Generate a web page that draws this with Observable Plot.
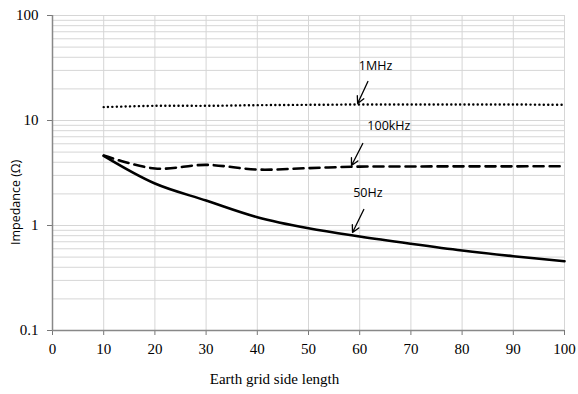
<!DOCTYPE html>
<html>
<head>
<meta charset="utf-8">
<script src="https://cdn.jsdelivr.net/npm/d3@7"></script>
<script src="https://cdn.jsdelivr.net/npm/@observablehq/plot@0.6"></script>
<style>
  body { margin: 0; background: #fff; }
</style>
</head>
<body>
<div id="chart"></div>
<script>
const sideLength = [10, 20, 30, 40, 50, 60, 70, 80, 90, 100];
const z1MHz   = [13.4, 13.8, 13.8, 14.0, 14.1, 14.2, 14.2, 14.2, 14.2, 14.1];
const z100kHz = [4.64, 3.49, 3.78, 3.41, 3.52, 3.64, 3.65, 3.66, 3.66, 3.67];
const z50Hz   = [4.6, 2.51, 1.73, 1.2, 0.94, 0.785, 0.67, 0.578, 0.51, 0.457];

const xTicks = [0, 10, 20, 30, 40, 50, 60, 70, 80, 90, 100];
const yTicks = [0.1, 1, 10, 100];
const yMinor = [];
for (const d of [0.1, 1, 10]) for (let k = 2; k <= 9; k++) yMinor.push(+(d * k).toFixed(3));

const labels = [
  {text: "1MHz",   x: 63.1, y: 33.4},
  {text: "100kHz", x: 65.7, y: 8.77},
  {text: "50Hz",   x: 61.6, y: 2.06}
];
const arrows = [
  {x1: 61.6, y1: 23.5, x2: 59.6, y2: 14.5},
  {x1: 60.6, y1: 6.04, x2: 58.4, y2: 3.73},
  {x1: 60.8, y1: 1.42, x2: 58.6, y2: 0.857}
];
const yTitle = [{x: 0, y: 1.66, text: "Impedance (Ω)"}];

const mk = (vals) => sideLength.map((x, i) => ({x, y: vals[i]}));

const chart = Plot.plot({
  width: 578,
  height: 394,
  marginTop: 15,
  marginBottom: 64,
  marginLeft: 52,
  marginRight: 14,
  style: {fontFamily: "'Liberation Serif', 'Times New Roman', serif", fontSize: "15px", color: "#000", background: "#fff"},
  x: {domain: [0, 100], ticks: xTicks, label: null},
  y: {type: "log", domain: [0.1, 100], ticks: yTicks, tickFormat: d => String(d), label: null},
  marks: [
    Plot.ruleY(yMinor, {stroke: "#d6d6d6", strokeWidth: 1}),
    Plot.ruleY([1, 10, 100], {stroke: "#d6d6d6", strokeWidth: 1}),
    Plot.ruleX(xTicks.slice(1), {stroke: "#d6d6d6", strokeWidth: 1}),
    Plot.axisX({ticks: xTicks, tickSize: 5, tickPadding: 8, fontSize: 15, stroke: "#777"}),
    Plot.axisY({ticks: yTicks, tickSize: 5, tickPadding: 9, fontSize: 15, tickFormat: d => String(d), stroke: "#777"}),
    Plot.ruleX([0], {stroke: "#888", strokeWidth: 1.5}),
    Plot.ruleY([0.1], {stroke: "#888", strokeWidth: 1.5}),
    Plot.line(mk(z1MHz), {x: "x", y: "y", curve: "catmull-rom", stroke: "#000", strokeWidth: 2.4, strokeDasharray: "0.1,4.3", strokeLinecap: "round"}),
    Plot.line(mk(z100kHz), {x: "x", y: "y", curve: "catmull-rom", stroke: "#000", strokeWidth: 2.6, strokeDasharray: "10,6"}),
    Plot.line(mk(z50Hz), {x: "x", y: "y", curve: "catmull-rom", stroke: "#000", strokeWidth: 2.6}),
    Plot.arrow(arrows, {x1: "x1", y1: "y1", x2: "x2", y2: "y2", stroke: "#000", strokeWidth: 1.3, headLength: 9, headAngle: 55}),
    Plot.text(labels, {x: "x", y: "y", text: "text", fontFamily: "'Open Sans', sans-serif", fontSize: 12.5, fill: "#000"}),
    Plot.text(["Earth grid side length"], {frameAnchor: "bottom", dx: -34, dy: 53, fontSize: 15, fill: "#000"}),
    Plot.text(yTitle, {x: "x", y: "y", text: "text", dx: -37, rotate: -90, fontFamily: "'Open Sans', sans-serif", fontSize: 12.5, fill: "#000"})
  ]
});
document.getElementById("chart").appendChild(chart);
</script>
</body>
</html>
